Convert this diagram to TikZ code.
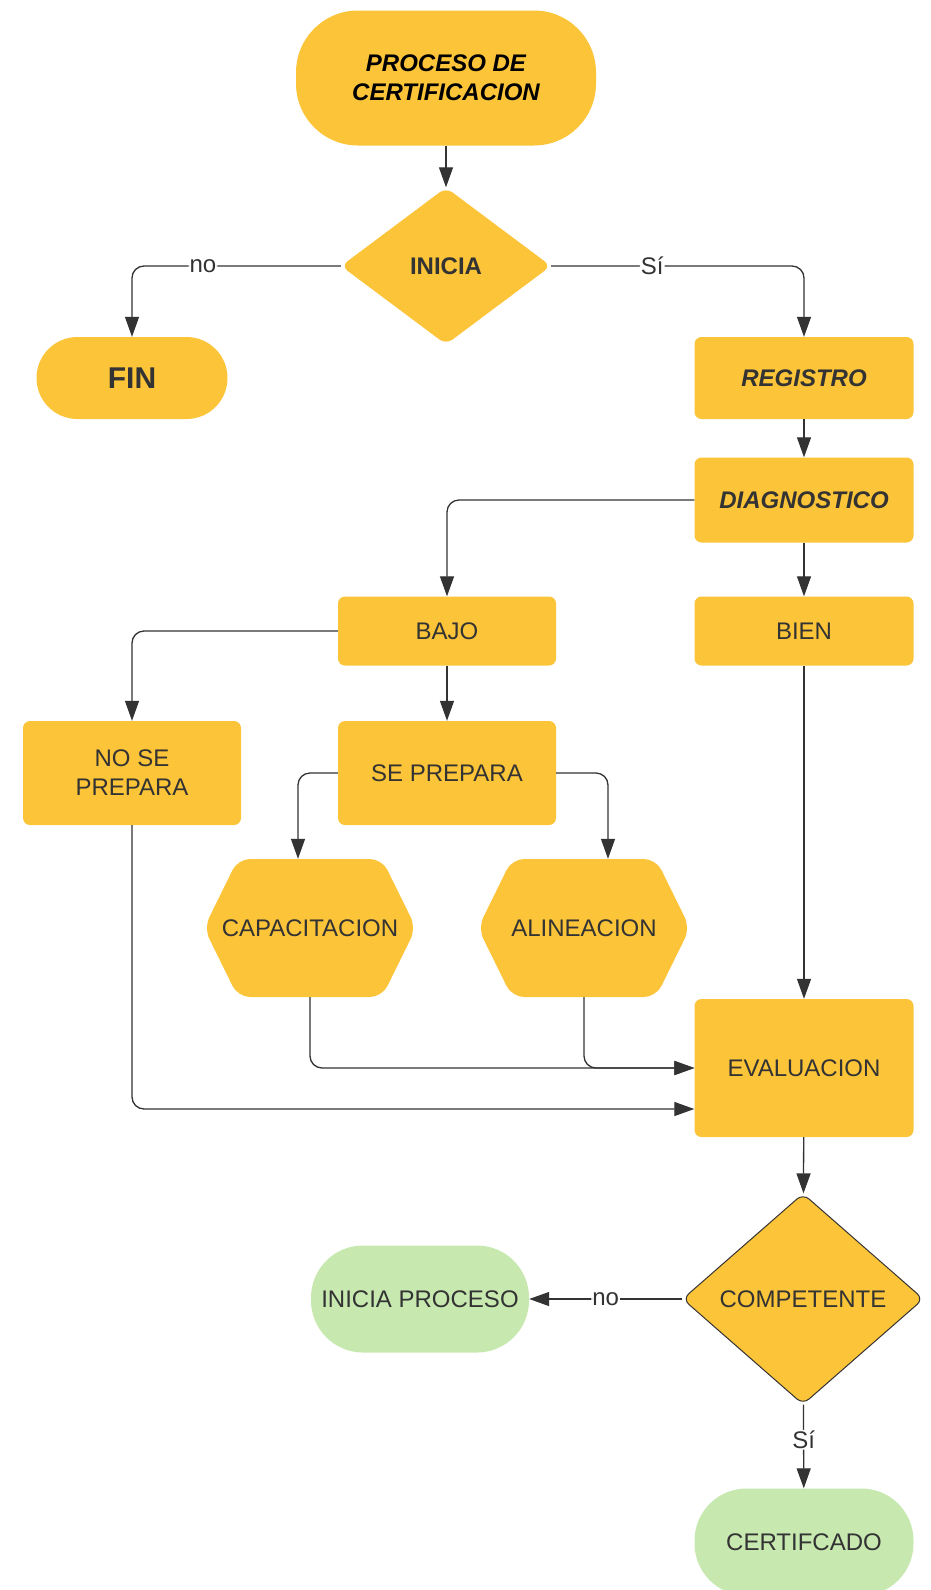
\documentclass[tikz,border=0pt]{standalone}
\usepackage{fontspec}
\setmainfont{Liberation Sans}
\usetikzlibrary{shapes.geometric,arrows.meta,positioning}
\definecolor{flowyellow}{HTML}{FCC438}
\definecolor{flowgreen}{HTML}{C7E9B0}
\definecolor{flowtext}{HTML}{333333}
\newcommand{\flowfont}{\fontsize{24}{29}\selectfont}

\begin{document}
\begin{tikzpicture}[
    x=1pt, y=-1pt,
    font=\flowfont,
    box/.style={rectangle, rounded corners=7pt, fill=flowyellow, text=flowtext,
                minimum width=219pt, minimum height=82pt, inner sep=2pt, align=center},
    terminal/.style={rectangle, fill=flowyellow, text=flowtext,
                     inner sep=0pt, align=center},
    decision/.style={diamond, rounded corners=8pt, fill=flowyellow, text=flowtext,
                     inner sep=0pt, minimum width=210pt, minimum height=157pt},
    hexa/.style={rectangle, fill=white, text=flowtext, inner sep=0pt,
                 minimum width=212pt, minimum height=138pt,
                 path picture={\fill[flowyellow, rounded corners=12pt]
                   (path picture bounding box.north)
                   -- ([xshift=-34pt]path picture bounding box.north east)
                   -- (path picture bounding box.east)
                   -- ([xshift=-34pt]path picture bounding box.south east)
                   -- ([xshift=34pt]path picture bounding box.south west)
                   -- (path picture bounding box.west)
                   -- ([xshift=34pt]path picture bounding box.north west)
                   -- cycle;}},
    strong/.style={font=\flowfont\bfseries},
    strongit/.style={font=\flowfont\bfseries\itshape},
    arrow/.style={draw=flowtext, line width=1.3pt, rounded corners=12pt,
                  -{Triangle[length=20pt, width=14pt]}},
    lbl/.style={fill=white, text=flowtext, inner sep=1pt}
]
\useasboundingbox (0,0) rectangle (930,1590);
\clip (0,0) rectangle (930,1590);

% Start
\node[terminal, rounded corners=62pt, minimum width=300pt, minimum height=135pt,
      strongit, text=black] (title) at (446,78) {PROCESO DE\\CERTIFICACION};
\node[decision, strong] (inicia) at (446,266) {INICIA};
\node[terminal, rounded corners=41pt, minimum width=191pt, minimum height=82pt,
      font=\fontsize{30}{36}\selectfont\bfseries] (fin) at (132,378) {FIN};
\node[box, strongit] (registro) at (804,378) {REGISTRO};
\node[box, strongit, minimum height=85pt] (diag) at (804,500) {DIAGNOSTICO};

% Diagnostico results
\node[box, minimum width=218pt, minimum height=69pt] (bajo) at (447,631) {BAJO};
\node[box, minimum height=69pt] (bien) at (804,631) {BIEN};
\node[box, minimum width=218pt, minimum height=104pt] (nosp) at (132,773) {NO SE\\PREPARA};
\node[box, minimum width=218pt, minimum height=104pt] (seprep) at (447,773) {SE PREPARA};
\node[hexa] (capac) at (310,928) {CAPACITACION};
\node[hexa] (alin) at (584,928) {ALINEACION};

% Evaluation
\node[box, minimum height=138pt] (eval) at (804,1068) {EVALUACION};
\node[decision, draw=flowtext, line width=1pt, minimum width=241pt,
      minimum height=211pt] (compet) at (803,1299) {COMPETENTE};
\node[terminal, fill=flowgreen, rounded corners=52pt, minimum width=218pt,
      minimum height=107pt] (iniproc) at (420,1299) {INICIA PROCESO};
\node[terminal, fill=flowgreen, rounded corners=52pt, minimum width=219pt,
      minimum height=107pt] (cert) at (804,1542) {CERTIFCADO};

% Connectors
\draw[arrow] (title) -- (inicia);
\draw[arrow] (inicia.west) -| node[lbl, pos=0.33] {no} (fin.north);
\draw[arrow] (inicia.east) -| node[lbl, pos=0.2] {Sí} (registro.north);
\draw[arrow] (registro) -- (diag);
\draw[arrow] (diag.west) -| (bajo.north);
\draw[arrow] (diag) -- (bien);
\draw[arrow] (bajo.west) -| (nosp.north);
\draw[arrow] (bajo) -- (seprep);
\draw[arrow] (seprep.west) -| ([xshift=-12pt]capac.north);
\draw[arrow] (seprep.east) -| ([xshift=24pt]alin.north);
\draw[arrow] (capac.south) |- (eval.west);
\draw[arrow] (alin.south) |- (eval.west);
\draw[arrow] (nosp.south) |- ([yshift=-41pt]eval.west);
\draw[arrow] (bien) -- (eval);
\draw[arrow] (eval) -- (compet);
\draw[arrow] (compet.west) -- node[lbl] {no} (iniproc.east);
\draw[arrow] (compet) -- node[lbl, pos=0.42] {Sí} (cert);

\end{tikzpicture}
\end{document}
